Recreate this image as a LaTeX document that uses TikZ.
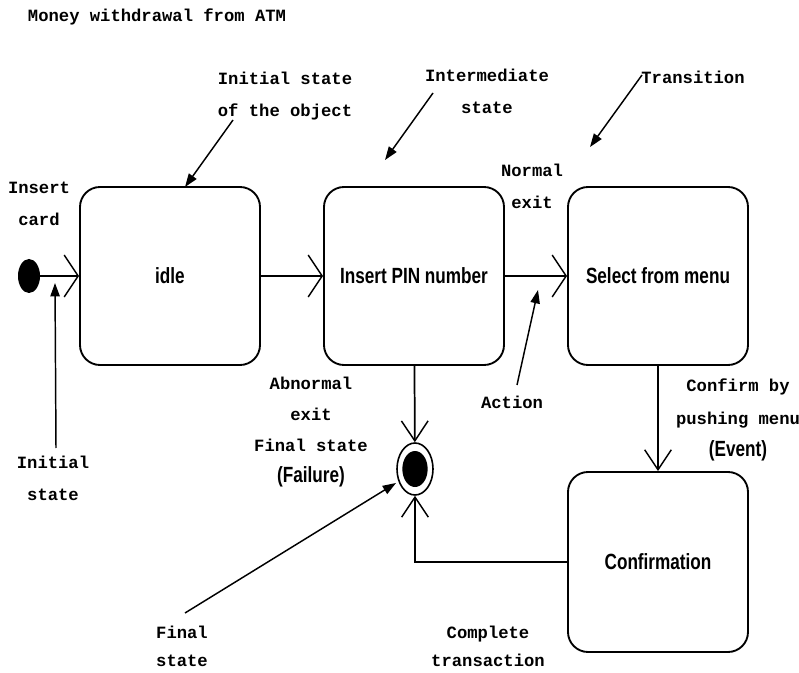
\documentclass[tikz,border=0pt]{standalone}
\usepackage{fontspec}
\setmonofont{Liberation Mono}
\newfontfamily\narrowsans[FakeStretch=0.78]{Liberation Sans}
\usetikzlibrary{arrows.meta,shapes.geometric}
\tikzset{
  statebox/.style={draw, line width=1.4pt, rounded corners=15pt, minimum width=135pt, minimum height=133.5pt, inner sep=0pt, font=\fontsize{16.5}{20}\selectfont\narrowsans\bfseries},
  monolbl/.style={align=center, inner sep=0pt, font=\fontsize{12.9}{24}\selectfont\ttfamily\bfseries},
  hflow/.style={draw, line width=1.3pt, -{Straight Barb[length=10.5pt, width=31.5pt, line width=1.1pt]}},
  vflow/.style={draw, line width=1.3pt, -{Straight Barb[length=15pt, width=20pt, line width=1.1pt]}},
  annot/.style={draw, line width=1.1pt, -{Triangle[length=10pt, width=7pt]}}
}
\begin{document}
\begin{tikzpicture}[x=0.75pt, y=-0.75pt]
\useasboundingbox (0,0) rectangle (799,673);
\fill[white] (0,0) rectangle (799,673);

% title
\node[monolbl] (title) at (157,17) {Money withdrawal from ATM};

% states
\node[statebox] (idle) at (170,276) {idle};
\node[statebox] (pin) at (414,276) {Insert PIN number};
\node[statebox] (sel) at (658,276) {Select from menu};
\node[statebox, minimum height=135pt] (conf) at (658,562) {Confirmation};

% initial and final pseudo states
\node[ellipse, fill=black, minimum width=16.5pt, minimum height=25.5pt, inner sep=0pt] (init) at (29,276) {};
\node[ellipse, draw, line width=1.2pt, minimum width=27pt, minimum height=39pt, inner sep=0pt] (final) at (415,469) {};
\node[ellipse, fill=black, minimum width=19pt, minimum height=27pt, inner sep=0pt] (finalin) at (415,469) {};

% transitions
\draw[hflow] (init) -- (idle);
\draw[hflow] (idle) -- (pin);
\draw[hflow] (pin) -- (sel);
\draw[vflow] (pin) -- (final);
\draw[vflow] (sel) -- (conf);
\draw[vflow] (conf) -| (final);

% labels
\node[monolbl] (lblcard) at (39,204) {Insert\\card};
\node[monolbl] (lblobj) at (285,96) {Initial state\\of the object};
\node[monolbl] (lblinter) at (487,91.5) {Intermediate\\state};
\node[monolbl] (lbltrans) at (693,77) {Transition};
\node[monolbl] (lblnormal) at (532,186.5) {Normal\\exit};
\node[monolbl] (lblaction) at (512,402) {Action};
\node[monolbl, font=\fontsize{12.9}{23.2}\selectfont\ttfamily\bfseries] (lblabn) at (311,432) {Abnormal\\exit\\Final state\\{\fontsize{16.5}{20}\selectfont\narrowsans\bfseries (Failure)}};
\node[monolbl, font=\fontsize{12.9}{24.5}\selectfont\ttfamily\bfseries] (lblconfirm) at (738,420) {Confirm by\\pushing menu\\{\fontsize{16.5}{20}\selectfont\narrowsans\bfseries (Event)}};
\node[monolbl] (lblinit) at (53,478) {Initial\\state};
\node[monolbl, font=\fontsize{12.9}{21}\selectfont\ttfamily\bfseries] (lblfinal) at (182,646) {Final\\state};
\node[monolbl, font=\fontsize{12.9}{21}\selectfont\ttfamily\bfseries] (lblcomplete) at (488,646) {Complete\\transaction};

% annotation pointers
\coordinate (a1s) at (233,120); \coordinate (a1e) at (185,187);
\coordinate (a2s) at (433,93);  \coordinate (a2e) at (385,160);
\coordinate (a3s) at (642,75);  \coordinate (a3e) at (590,147);
\coordinate (a4s) at (517,385); \coordinate (a4e) at (538,290);
\coordinate (a5s) at (56,448);  \coordinate (a5e) at (55,283);
\coordinate (a6s) at (185,613); \coordinate (a6e) at (396,483);
\draw[annot] (a1s) -- (a1e);
\draw[annot] (a2s) -- (a2e);
\draw[annot] (a3s) -- (a3e);
\draw[annot] (a4s) -- (a4e);
\draw[annot] (a5s) -- (a5e);
\draw[annot] (a6s) -- (a6e);
\end{tikzpicture}
\end{document}
